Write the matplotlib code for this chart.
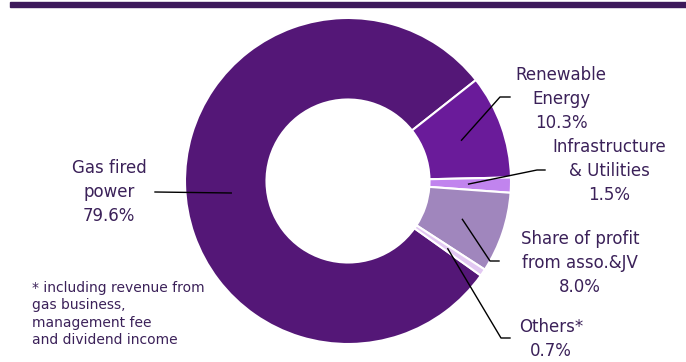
import numpy as np
import matplotlib.pyplot as plt
from matplotlib.patches import Rectangle

# segments, in clockwise order starting after "Others"
labels = ['Gas fired\npower\n79.6%', 'Renewable\nEnergy\n10.3%', 'Infrastructure\n& Utilities\n1.5%',
          'Share of profit\nfrom asso.&JV\n8.0%', 'Others*\n0.7%']
values = [79.6, 10.3, 1.5, 8.0, 0.7]
colors = ['#541777', '#6a1b9a', '#c184ee', '#a086bd', '#e2c8f2']

text_pos = [(109, 170), (561, 263), (609, 191), (580, 99), (551, 23)]
elbows = [None, (500, 510, 265), (537, 545, 192), (490, 499, 101), (501, 510, 24)]

txt_color = '#3b2159'

fig = plt.figure(figsize=(6.86, 3.62), dpi=100)
ax = fig.add_axes([0, 0, 1, 1])

cx, cy, R = 348, 181, 163
start = 38 + 360 * values[0] / 100
wedges, _ = ax.pie(values, colors=colors, startangle=start, counterclock=False,
                   center=(cx, cy), radius=R, frame=True,
                   wedgeprops=dict(width=R * 0.5, edgecolor='white', linewidth=1.5))
ax.set_xlim(0, 686)
ax.set_ylim(0, 362)
ax.set_aspect('equal')
ax.axis('off')

for w, lab, tp, el in zip(wedges, labels, text_pos, elbows):
    if el is None:
        # big slice: horizontal leader into the ring
        ly = 169
        lx = cx - np.sqrt((0.72 * R) ** 2 - (cy - ly) ** 2)
        ax.plot([155, lx], [170, ly], color='black', lw=1)
    else:
        mid = np.deg2rad((w.theta1 + w.theta2) / 2)
        ax_x = cx + 0.74 * R * np.cos(mid)
        ax_y = cy + 0.74 * R * np.sin(mid)
        ax.plot([ax_x, el[0], el[1]], [ax_y, el[2], el[2]], color='black', lw=1)
    ax.text(tp[0], tp[1], lab, ha='center', va='center', fontsize=12,
            color=txt_color, linespacing=1.4)

ax.text(32, 48, '* including revenue from\ngas business,\nmanagement fee\nand dividend income',
        ha='left', va='center', fontsize=10, color=txt_color, linespacing=1.32)

# dark band along the top
ax.add_patch(Rectangle((10, 355), 676, 5, color='#3d1a5b', clip_on=False))

fig.savefig('out.png', dpi=100)
